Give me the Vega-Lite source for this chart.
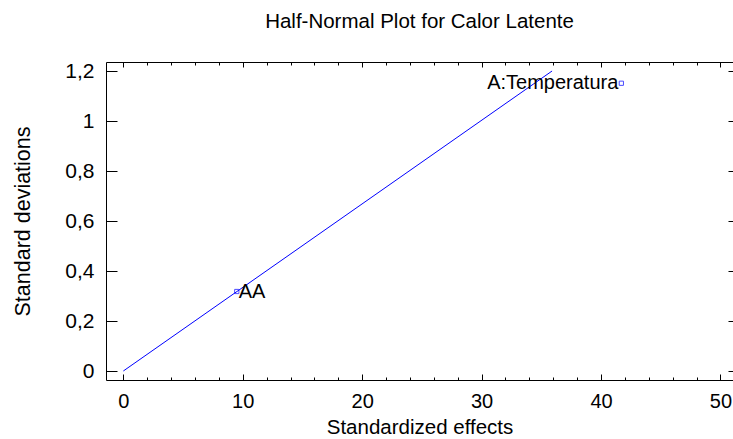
{
  "$schema": "https://vega.github.io/schema/vega-lite/v6.json",
  "width": 627,
  "height": 318,
  "autosize": {"type": "none"},
  "padding": {"left": 106, "top": 62, "right": 0, "bottom": 59},
  "background": "white",
  "config": {
    "font": "Liberation Sans",
    "view": {"stroke": null},
    "axis": {"grid": false, "labelColor": "black", "titleColor": "black", "tickColor": "black", "domainColor": "black", "labelFontSize": 20, "titleFontSize": 20, "titleFontWeight": "normal", "labelFont": "Liberation Sans", "titleFont": "Liberation Sans"}
  },
  "title": {"text": "Half-Normal Plot for Calor Latente", "fontSize": 20.5, "fontWeight": "normal", "font": "Liberation Sans", "color": "black", "offset": 28, "anchor": "middle"},
  "datasets": {
    "fit": [{"x": 0, "y": 0}, {"x": 35.9, "y": 1.2}],
    "effects": [
      {"effect": "AA", "x": 9.5, "y": 0.318},
      {"effect": "A:Temperatura", "x": 41.7, "y": 1.151}
    ]
  },
  "layer": [
    {
      "data": {"name": "fit"},
      "mark": {"type": "line", "color": "#0000ff", "strokeWidth": 1, "clip": true},
      "encoding": {
        "x": {"field": "x", "type": "quantitative", "scale": {"domain": [-1.45, 51.05], "nice": false, "zero": false},
          "axis": {"orient": "bottom", "values": [0, 10, 20, 30, 40, 50], "ticks": false, "domain": true, "labelPadding": 11, "title": "Standardized effects", "titlePadding": 6, "titleFontSize": 20.5}},
        "y": {"field": "y", "type": "quantitative", "scale": {"domain": [-0.036, 1.236], "nice": false, "zero": false},
          "axis": {"orient": "left", "values": [0, 0.2, 0.4, 0.6, 0.8, 1, 1.2], "ticks": false, "domain": true, "labelPadding": 12, "labelFontSize": 21, "labelExpr": "replace(toString(round(datum.value*10)/10), '.', ',')", "title": "Standard deviations", "titleFontSize": 21.5, "titlePadding": 30}}
      }
    },
    {
      "data": {"name": "effects"},
      "mark": {"type": "point", "shape": "square", "filled": false, "color": "#0000ff", "size": 18, "strokeWidth": 1},
      "encoding": {
        "x": {"field": "x", "type": "quantitative", "axis": {"orient": "bottom", "values": [0, 10, 20, 30, 40, 50], "tickSize": -6, "labels": false, "domain": false, "title": null}},
        "y": {"field": "y", "type": "quantitative", "axis": {"orient": "left", "values": [0, 0.2, 0.4, 0.6, 0.8, 1, 1.2], "tickSize": -11, "labels": false, "domain": false, "title": null}}
      }
    },
    {
      "data": {"name": "effects"},
      "transform": [{"filter": "datum.effect === 'AA'"}],
      "mark": {"type": "text", "align": "left", "baseline": "middle", "dx": 2, "fontSize": 20, "color": "black"},
      "encoding": {
        "text": {"field": "effect"},
        "x": {"field": "x", "type": "quantitative", "axis": {"orient": "bottom", "values": [2, 4, 6, 8, 12, 14, 16, 18, 22, 24, 26, 28, 32, 34, 36, 38, 42, 44, 46, 48], "tickSize": -3, "labels": false, "domain": false, "title": null}},
        "y": {"field": "y", "type": "quantitative", "axis": {"orient": "right", "values": [0, 0.2, 0.4, 0.6, 0.8, 1, 1.2], "tickSize": -5, "labels": false, "domain": false, "title": null}}
      }
    },
    {
      "data": {"name": "effects"},
      "transform": [{"filter": "datum.effect !== 'AA'"}],
      "mark": {"type": "text", "align": "right", "baseline": "middle", "dx": -3, "fontSize": 20, "color": "black"},
      "encoding": {
        "text": {"field": "effect"},
        "x": {"field": "x", "type": "quantitative", "axis": {"orient": "top", "values": [0, 10, 20, 30, 40, 50], "tickSize": -5, "labels": false, "domain": true, "title": null}},
        "y": {"field": "y", "type": "quantitative", "axis": null}
      }
    },
    {
      "data": {"name": "fit"},
      "mark": {"type": "rule", "opacity": 0},
      "encoding": {
        "x": {"field": "x", "type": "quantitative", "axis": {"orient": "top", "values": [2, 4, 6, 8, 12, 14, 16, 18, 22, 24, 26, 28, 32, 34, 36, 38, 42, 44, 46, 48], "tickSize": -3, "labels": false, "domain": false, "title": null}}
      }
    }
  ],
  "resolve": {"axis": {"x": "independent", "y": "independent"}}
}
